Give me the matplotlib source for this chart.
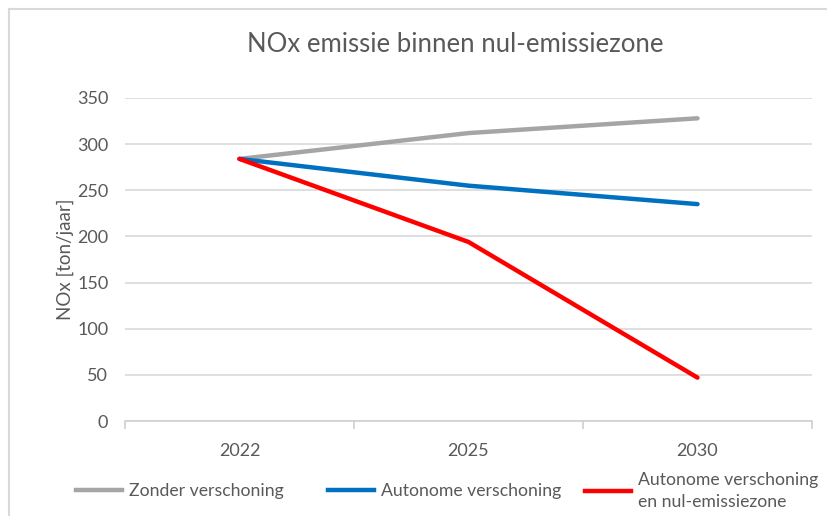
import matplotlib.pyplot as plt
from matplotlib.lines import Line2D

plt.rcParams['font.family'] = ['Lato', 'DejaVu Sans']

years = ['2022', '2025', '2030']
zonder = [284, 312, 328]
autonoom = [284, 255, 235]
nul_emissie = [284, 194, 47]

series_labels = ['Zonder verschoning', 'Autonome verschoning',
                 'Autonome verschoning\nen nul-emissiezone']
colors = ['#A5A5A5', '#0070C0', '#FF0000']
text_col = '#595959'

fig = plt.figure(figsize=(8.27, 5.16), dpi=100)
ax = fig.add_axes([125 / 827, 1 - 421 / 516, (812 - 125) / 827, (421 - 98) / 516])

x = list(range(len(years)))
for vals, c in zip([zonder, autonoom, nul_emissie], colors):
    ax.plot(x, vals, color=c, lw=3.2, solid_capstyle='round', zorder=3)

ax.set_xlim(-0.5, len(years) - 0.5)
ax.set_ylim(0, 350)
ax.set_yticks(range(0, 351, 50))
ax.set_xticks(x)
ax.set_xticklabels(years)
ax.set_xticks([-0.5, 0.5, 1.5, 2.5], minor=True)
ax.grid(axis='y', color='#D9D9D9', lw=1.2)
ax.set_axisbelow(True)
for s in ['top', 'right', 'left']:
    ax.spines[s].set_visible(False)
ax.spines['bottom'].set_color('#D0D0D0')
ax.spines['bottom'].set_linewidth(1.2)
ax.tick_params(axis='y', length=0, pad=12, labelsize=13, labelcolor=text_col)
ax.tick_params(axis='x', which='major', length=0, pad=16, labelsize=13, labelcolor=text_col)
ax.tick_params(axis='x', which='minor', length=6, color='#D0D0D0', width=1.2)
ax.set_ylabel('NOx [ton/jaar]', fontsize=13.5, color=text_col, labelpad=2)

fig.text(455 / 827, 1 - 45 / 516, 'NOx emissie binnen nul-emissiezone',
         ha='center', va='center', fontsize=18.5, color=text_col)

# legend, one box per entry so they sit where the reference has them
handles = [Line2D([], [], color=c, lw=3.2) for c in colors]
leg_x = [76, 328, 585]
for h, lab, lx in zip(handles, series_labels, leg_x):
    leg = fig.legend([h], [lab], loc='center left',
                     bbox_to_anchor=(lx / 827, 1 - 491 / 516), frameon=False,
                     fontsize=12.7, labelcolor=text_col, handlelength=2.6,
                     handletextpad=0.4, borderpad=0, borderaxespad=0)
    for t in leg.get_texts():
        t.set_linespacing(1.45)

# chart frame (left and top only visible)
fig.add_artist(Line2D([9 / 827, 9 / 827], [0, 1 - 9 / 516], color='#D9D9D9', lw=1.5))
fig.add_artist(Line2D([9 / 827, 1], [1 - 9 / 516, 1 - 9 / 516], color='#D9D9D9', lw=1.5))

fig.savefig('out.png', dpi=100)
